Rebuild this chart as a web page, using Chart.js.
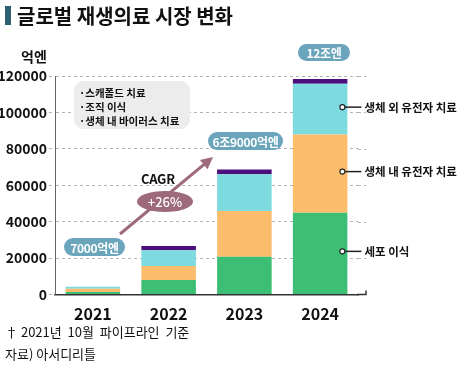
<!DOCTYPE html>
<html><head><meta charset="utf-8">
<script src="https://cdn.jsdelivr.net/npm/chart.js@4.4.0/dist/chart.umd.min.js"></script>
<style>
html,body{margin:0;padding:0;background:#fff;}
#wrap{position:relative;width:466px;height:365px;overflow:hidden;font-family:"Noto Sans CJK KR","Noto Sans",sans-serif;color:#111;}
#c{position:absolute;left:0;top:0;}
.abs{position:absolute;white-space:pre;line-height:1;}
.pill{position:absolute;background:#6aa5bc;color:#fff;font-weight:700;font-size:12px;border-radius:9px;display:flex;align-items:center;justify-content:center;letter-spacing:-0.3px;}
.call{position:absolute;white-space:pre;font-weight:700;font-size:11.5px;line-height:14px;color:#111;}
</style></head>
<body>
<div id="wrap">
  <canvas id="c" width="466" height="365"></canvas>
  <div class="abs" style="left:5px;top:6px;width:6px;height:19px;background:#2e5f6e;"></div>
  <div class="abs" id="title" style="left:17px;top:5px;font-size:20px;font-weight:700;line-height:22px;"></div>
  <div class="abs" id="unit" style="left:21px;top:48px;font-size:14px;font-weight:700;line-height:16px;"></div>
  <div class="abs" style="left:74px;top:81px;width:116px;height:48px;background:#ececec;border-radius:9px;"></div>
  <div class="abs" id="box" style="left:79px;top:86px;font-size:10.5px;font-weight:700;line-height:14px;"></div>
  <div class="abs" id="cagr" style="left:141px;top:171px;font-size:13px;font-weight:700;line-height:15px;letter-spacing:-0.3px;"></div>
  <div class="abs" id="rate" style="left:137px;top:191px;width:56px;height:21px;border-radius:50%;background:#9d6a7b;color:#fff;font-size:13px;font-weight:500;display:flex;align-items:center;justify-content:center;"></div>
  <div class="pill" id="p0" style="left:64px;top:238px;width:61px;height:18px;"></div>
  <div class="pill" id="p1" style="left:208px;top:132px;width:75px;height:18px;"></div>
  <div class="pill" id="p2" style="left:298px;top:44px;width:52px;height:17px;"></div>
  <div class="call" id="l0"></div>
  <div class="call" id="l1"></div>
  <div class="call" id="l2"></div>
  <div class="abs" id="note" style="left:5px;top:324px;font-size:13px;line-height:15px;"></div>
  <div class="abs" id="src" style="left:5px;top:346px;font-size:13px;line-height:15px;"></div>
</div>
<script>
// ---- data ----
const years = ['2021', '2022', '2023', '2024'];
const cellTransplant = [1400, 8000, 20800, 44900];   // 세포 이식
const inVivoGene = [1800, 7700, 25000, 43000];       // 생체 내 유전자 치료
const exVivoGene = [1100, 8600, 20300, 27800];       // 생체 외 유전자 치료
const otherTherapies = [0, 2400, 2600, 2600];        // 스캐폴드 치료·조직 이식·생체 내 바이러스 치료
const seriesNames = ['세포 이식', '생체 내 유전자 치료', '생체 외 유전자 치료', '기타'];
const otherItems = ['·스캐폴드 치료', '·조직 이식', '·생체 내 바이러스 치료'];
const totalLabels = ['7000억엔', '6조9000억엔', '12조엔'];
const yMin = 0, yMax = 120000, yStep = 20000;
const titleText = '글로벌 재생의료 시장 변화';
const unitText = '억엔';
const cagrText = 'CAGR';
const cagrValue = '+26%';
const noteText = '† 2021년  10월  파이프라인  기준';
const sourceText = '자료) 아서디리틀';

const colors = ['#3cbf74', '#fbbd6c', '#7ddbe0', '#4a0f7a'];

document.getElementById('box').textContent = otherItems.join('\n');
document.getElementById('p0').textContent = totalLabels[0];
document.getElementById('p1').textContent = totalLabels[1];
document.getElementById('p2').textContent = totalLabels[2];
document.getElementById('note').textContent = noteText;
document.getElementById('src').textContent = sourceText;
document.getElementById('title').textContent = titleText;
document.getElementById('unit').textContent = unitText;
document.getElementById('cagr').textContent = cagrText;
document.getElementById('rate').textContent = cagrValue;

const extendPlugin = {
  id: 'extend',
  beforeDatasetsDraw(chart) {
    const {ctx, chartArea} = chart;
    const y = chart.scales.y;
    const ext = 8;
    ctx.save();
    ctx.strokeStyle = '#b3b3b3';
    ctx.lineWidth = 1;
    ctx.setLineDash([3, 3]);
    y.ticks.forEach(t => {
      if (t.value === 0) return;
      const py = Math.round(y.getPixelForValue(t.value)) + 0.5;
      ctx.beginPath();
      ctx.moveTo(chartArea.right, py);
      ctx.lineTo(chartArea.right + ext, py);
      ctx.stroke();
    });
    ctx.setLineDash([]);
    ctx.strokeStyle = '#333';
    ctx.lineWidth = 1.5;
    const by = chart.scales.x.top;
    ctx.beginPath();
    ctx.moveTo(chartArea.right - 1, by);
    ctx.lineTo(chartArea.right + ext, by);
    ctx.lineTo(chartArea.right + ext, by - 4);
    ctx.stroke();
    ctx.restore();
  }
};

const calloutPlugin = {
  id: 'callout',
  afterDatasetsDraw(chart) {
    const {ctx} = chart;
    const last = years.length - 1;
    const ids = ['l2', 'l1', 'l0'];
    ctx.save();
    for (let d = 0; d < 3; d++) {
      const el = chart.getDatasetMeta(d).data[last];
      const cx = el.x + el.width / 2 - 5;
      const cy = (el.y + el.base) / 2 - 2;
      ctx.strokeStyle = '#222';
      ctx.lineWidth = 1.5;
      ctx.beginPath();
      ctx.moveTo(cx + 2.5, cy);
      ctx.lineTo(cx + 19, cy);
      ctx.stroke();
      ctx.fillStyle = '#fff';
      ctx.lineWidth = 1.2;
      ctx.beginPath();
      ctx.arc(cx, cy, 2.5, 0, Math.PI * 2);
      ctx.fill();
      ctx.stroke();
      const lab = document.getElementById(ids[d]);
      lab.textContent = seriesNames[d];
      lab.style.left = (cx + 22) + 'px';
      lab.style.top = (cy - 7.5) + 'px';
    }
    ctx.restore();
  },
  afterDraw(chart) {
    // CAGR arrow
    const {ctx} = chart;
    const x1 = 120, y1 = 234, x2 = 213, y2 = 157;
    const ang = Math.atan2(y2 - y1, x2 - x1);
    ctx.save();
    ctx.strokeStyle = '#9d6a7b';
    ctx.fillStyle = '#9d6a7b';
    ctx.lineWidth = 3;
    ctx.beginPath();
    ctx.moveTo(x1, y1);
    ctx.lineTo(x2 - 8 * Math.cos(ang), y2 - 8 * Math.sin(ang));
    ctx.stroke();
    ctx.beginPath();
    ctx.moveTo(x2, y2);
    ctx.lineTo(x2 - 12 * Math.cos(ang) + 6 * Math.sin(ang), y2 - 12 * Math.sin(ang) - 6 * Math.cos(ang));
    ctx.lineTo(x2 - 12 * Math.cos(ang) - 6 * Math.sin(ang), y2 - 12 * Math.sin(ang) + 6 * Math.cos(ang));
    ctx.closePath();
    ctx.fill();
    ctx.restore();
  }
};

const seriesData = [cellTransplant, inVivoGene, exVivoGene, otherTherapies];

new Chart(document.getElementById('c'), {
  type: 'bar',
  data: {
    labels: years,
    datasets: seriesData.map((arr, i) => ({
      label: seriesNames[i],
      data: arr,
      backgroundColor: colors[i],
      borderWidth: 0,
      categoryPercentage: 1,
      barPercentage: 0.72
    }))
  },
  options: {
    responsive: false,
    animation: false,
    events: [],
    layout: {padding: {left: 0, top: 76, right: 108, bottom: 0}},
    plugins: {legend: {display: false}, title: {display: false}, tooltip: {enabled: false}},
    scales: {
      x: {
        stacked: true,
        grid: {display: false},
        border: {display: true, color: '#333', width: 1.5},
        ticks: {color: '#111', font: {family: '"Noto Sans CJK KR"', size: 16, weight: '700'}, padding: 2},
        afterFit: s => { s.height = 70.5; }
      },
      y: {
        stacked: true,
        min: yMin,
        max: yMax,
        border: {display: true, color: '#666', width: 1, dash: [3, 3]},
        grid: {color: '#b3b3b3', lineWidth: 1, drawTicks: true, tickLength: 6, tickBorderDash: [3, 3], tickColor: '#b3b3b3'},
        ticks: {stepSize: yStep, color: '#111', font: {family: '"Noto Sans CJK KR"', size: 14, weight: '700'}, padding: 2,
                callback: v => String(v)},
        afterFit: s => { s.width = 55; }
      }
    }
  },
  plugins: [extendPlugin, calloutPlugin]
});
</script>
</body></html>
